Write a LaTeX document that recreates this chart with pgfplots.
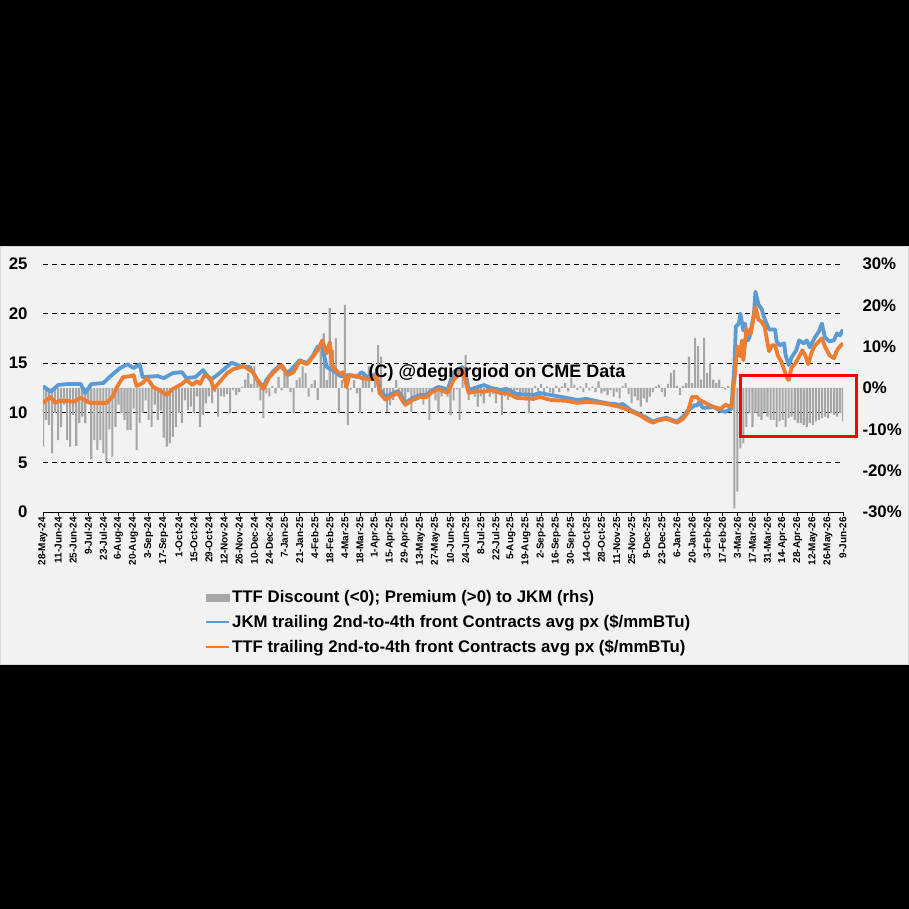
\documentclass[border=0pt]{standalone}
\usepackage{fontspec}
\setmainfont{Liberation Sans}
\usepackage{pgfplots}
\pgfplotsset{compat=1.18}
\definecolor{panel}{HTML}{F2F2F2}
\definecolor{barcol}{HTML}{A6A6A6}
\definecolor{jkm}{HTML}{5B9BD5}
\definecolor{ttf}{HTML}{ED7D31}
\newcommand\tickfont{\bfseries\fontsize{16.8}{20}\selectfont}
\begin{document}
\begin{tikzpicture}
\useasboundingbox (0pt,0pt) rectangle (909pt,909pt);
\fill[black] (0pt,0pt) rectangle (909pt,909pt);
\fill[panel, draw=black!15, line width=1pt] (0.5pt,244pt) rectangle (908.5pt,662pt);
\begin{axis}[
  at={(43pt,397pt)}, anchor=south west, scale only axis, width=800pt, height=248pt,
  xmin=0, xmax=530, ymin=-30, ymax=30,
  axis x line*=bottom, axis y line*=right,
  x axis line style={-, black, line width=0.8pt},
  y axis line style={draw=none},
  tick align=outside, major tick length=4pt,
  xtick={0,10,...,530},
  xticklabels={28-May-24,11-Jun-24,25-Jun-24,9-Jul-24,23-Jul-24,6-Aug-24,20-Aug-24,3-Sep-24,17-Sep-24,1-Oct-24,15-Oct-24,29-Oct-24,12-Nov-24,26-Nov-24,10-Dec-24,24-Dec-24,7-Jan-25,21-Jan-25,4-Feb-25,18-Feb-25,4-Mar-25,18-Mar-25,1-Apr-25,15-Apr-25,29-Apr-25,13-May-25,27-May-25,10-Jun-25,24-Jun-25,8-Jul-25,22-Jul-25,5-Aug-25,19-Aug-25,2-Sep-25,16-Sep-25,30-Sep-25,14-Oct-25,28-Oct-25,11-Nov-25,25-Nov-25,9-Dec-25,23-Dec-25,6-Jan-26,20-Jan-26,3-Feb-26,17-Feb-26,3-Mar-26,17-Mar-26,31-Mar-26,14-Apr-26,28-Apr-26,12-May-26,26-May-26,9-Jun-26},
  xticklabel style={rotate=90, anchor=east, font=\bfseries\fontsize{10}{12}\selectfont, inner sep=1pt},
  x tick style={black, line width=0.8pt},
  ytick={-30,-20,...,30},
  yticklabels={-30\%,-20\%,-10\%,0\%,10\%,20\%,30\%},
  y tick style={draw=none},
  yticklabel style={font=\tickfont, anchor=west, xshift=12pt},
  extra y ticks={-18,-6,6,18,30},
  extra y tick labels={},
  extra y tick style={grid=major, major grid style={black, dash pattern=on 5pt off 4pt, line width=0.7pt}, tick style={draw=none}},
]
\addplot[ybar, bar width=1.4, fill=barcol, draw=none] coordinates {
(0,-14.2)(2,-7.7)(4,-9.0)(6,-15.8)(8,-6.0)(10,-12.6)(12,-9.4)(14,-4.0)(16,-12.6)(18,-14.2)(20,-6.5)(22,-14.0)(24,-8.5)(26,-6.9)(28,-8.5)(30,-3.0)(32,-17.3)(34,-12.6)(36,-15.0)(38,-12.6)(40,-15.8)(42,-17.9)(44,-10.0)(46,-16.6)(48,-9.4)(50,-4.0)(52,-6.1)(54,-7.7)(56,-10.2)(58,-10.2)(60,-5.0)(62,-15.0)(64,-8.5)(66,-6.1)(68,-3.0)(70,-7.7)(72,-9.4)(74,-4.0)(76,-7.7)(78,-5.5)(80,-12.0)(82,-14.2)(84,-13.4)(86,-11.8)(88,-9.4)(90,-6.0)(92,-8.5)(94,-3.0)(96,-5.3)(98,-4.5)(100,-6.1)(102,-2.0)(104,-9.4)(106,-6.5)(108,-3.7)(110,-2.0)(112,-3.7)(114,-1.0)(116,-6.9)(118,-2.0)(120,-2.1)(122,-1.5)(124,-6.1)(126,-0.5)(128,-1.7)(130,-1.0)(132,0.3)(134,2.0)(136,3.6)(138,1.0)(140,5.2)(142,1.5)(144,-3.0)(146,-7.3)(148,-1.3)(150,-2.0)(152,0.5)(154,-1.3)(156,2.7)(158,-0.5)(160,5.2)(162,3.0)(164,-1.0)(166,-6.1)(168,1.9)(170,2.5)
(172,5.2)(174,3.6)(176,-2.1)(178,1.0)(180,1.9)(182,-2.9)(184,9.2)(186,13.2)(188,1.9)(190,19.3)(192,9.2)(194,12.0)(196,-6.1)(198,1.9)(200,20.1)(202,-9.0)(204,-0.4)(206,1.9)(208,-1.3)(210,-6.1)(212,3.6)(214,1.9)(216,5.2)(218,-1.0)(220,2.7)(222,10.4)(224,7.6)(226,-2.1)(228,-5.7)(230,-4.1)(232,-2.9)(234,1.9)(236,-0.4)(238,-2.1)(240,-3.0)(242,-1.0)(244,-5.7)(246,-2.0)(248,-3.0)(250,-2.1)(252,-4.0)(254,-1.5)(256,-7.7)(258,-1.3)(260,-3.0)(262,-5.7)(264,-2.0)(266,-1.0)(268,-2.1)(270,-6.5)(272,-3.0)(274,-0.4)(276,-7.7)(278,3.6)(280,8.0)(282,-2.9)(284,-1.0)(286,-2.1)(288,-4.5)(290,-2.0)(292,-3.7)(294,-1.0)(296,-2.1)(298,-1.5)(300,-3.7)(302,-1.0)(304,-6.5)(306,-2.0)(308,-2.9)(310,-1.0)(312,-2.0)(314,-0.5)(316,-2.1)(318,-1.0)(320,-3.0)(322,-6.1)(324,-1.2)(326,0.5)(328,-0.8)(330,1.0)(332,-1.5)(334,0.4)(336,-1.0)(338,-2.1)(340,0.5)(342,-1.0)(344,0.4)(346,1.2)(348,-0.8)(350,2.4)(352,0.8)(354,-0.5)(356,0.4)(358,-1.0)(360,1.2)(362,-0.6)(364,0.4)(366,-1.0)(368,1.6)
(370,-1.3)(372,-0.8)(374,-1.7)(376,-0.5)(378,-2.1)(380,-1.0)(382,-2.5)(384,0.5)(386,1.2)(388,-1.5)(390,-3.7)(392,-2.0)(394,-3.0)(396,-4.5)(398,-2.5)(400,-3.5)(402,-2.1)(404,-1.0)(406,0.4)(408,0.8)(410,-1.0)(412,-2.1)(414,1.0)(416,3.6)(418,4.4)(420,0.5)(422,-1.7)(424,0.5)(426,1.2)(428,7.6)(430,1.2)(432,12.1)(434,10.1)(436,2.0)(438,12.1)(440,3.6)(442,6.0)(444,2.0)(446,1.2)(448,2.0)(450,0.3)(452,-0.4)(454,0.5)(456,-0.4)(458,-29.1)(460,-25.1)(462,-14.6)(464,-13.4)
(466,-9.4)(468,-6.1)(470,-9.4)(472,-6.1)(474,-6.9)(476,-7.7)(478,-5.7)(480,-6.9)(482,-7.7)(484,-7.7)(486,-9.4)(488,-8.0)(490,-7.7)(492,-9.4)(494,-7.3)(496,-6.9)(498,-7.7)(500,-8.5)(502,-8.5)(504,-8.9)(506,-9.4)(508,-8.5)(510,-8.9)(512,-8.1)(514,-7.7)(516,-7.3)(518,-6.9)(520,-7.3)(522,-6.1)(524,-6.5)(526,-6.9)(528,-6.1)(530,-8.1)
};
\end{axis}
\begin{axis}[
  at={(43pt,397pt)}, anchor=south west, scale only axis, width=800pt, height=248pt,
  xmin=0, xmax=530, ymin=0, ymax=25,
  axis x line=none, axis y line*=left,
  y axis line style={draw=none},
  ytick={0,5,...,25}, yticklabels={0,5,10,15,20,25},
  y tick style={draw=none},
  yticklabel style={font=\tickfont, anchor=east, xshift=-12pt},
  legend image code/.code={\draw[#1, line width=2.5pt] (0pt,0pt) -- (23pt,0pt);},
  legend style={at={(0.2025,-0.31)}, anchor=north west, draw=none, fill=none, inner sep=0pt, font=\tickfont, row sep=8pt, nodes={inner sep=1.5pt}},
  legend cell align=left,
]
\addlegendimage{legend image code/.code={\fill[barcol] (0pt,-3.5pt) rectangle (23pt,3.5pt);}}
\addlegendentry{TTF Discount (<0); Premium (>0) to JKM (rhs)}
\addplot[jkm, line width=3.8pt, line join=round] coordinates {
(0,12.7)(5,12.1)(10,12.8)(16,12.9)(25,12.9)(28,12.0)(32,12.9)(40,13.0)(44,13.6)(51,14.5)(56,14.9)(60,14.5)(64,14.9)(66,13.6)(76,13.7)(80,13.5)(86,14.0)(92,14.1)(95,13.5)(101,13.6)(106,14.3)(111,13.3)(117,14.0)(125,15.05)(131,14.7)(137,14.6)(142,13.3)(146,12.6)(148,13.3)(152,14.1)(157,14.8)(162,14.0)(166,14.6)(170,15.3)(175,15.0)(179,15.8)(182,16.7)(185,16.6)(188,14.6)(192,14.3)(197,13.7)(203,13.8)(208,13.6)(211,14.1)(215,13.6)(218,13.8)(221,13.9)(223,12.4)(227,11.6)(230,11.8)(235,12.2)(237,11.8)(240,11.0)(245,11.5)(250,11.8)(254,11.8)(258,12.3)(262,12.6)(265,12.5)(268,12.3)(272,14.1)(278,14.6)(280,14.0)(282,12.3)(288,12.6)(292,12.8)(297,12.5)(303,12.3)(307,12.4)(314,11.9)(325,11.8)(329,12.0)(336,11.8)(347,11.5)(354,11.3)(360,11.4)(369,11.1)(376,10.9)(378,10.9)(382,10.8)(384,10.9)(389,10.3)(396,9.8)(400,9.5)(404,9.1)(407,9.3)(413,9.5)(420,9.1)(424,9.6)(427,10.2)(432,10.8)(433,10.7)(435,11.1)(437,10.5)(440,10.5)(444,10.6)(449,10.2)(452,10.1)(456,10.4)(458,14.6)(459,18.7)(461,19.0)(462,20.0)(464,18.3)(465,19.0)(467,17.3)(468,17.6)(471,20.0)(472,22.2)(474,20.9)(476,20.5)(478,19.5)(481,18.4)(483,18.4)(485,18.4)(486,17.2)(488,16.8)(491,17.0)(492,15.8)(494,14.8)(496,15.6)(499,16.3)(501,17.3)(504,17.0)(506,17.3)(508,16.6)(511,17.5)(514,18.2)(516,19.0)(518,17.6)(521,17.2)(524,17.3)(526,18.0)(528,17.8)(530,18.4)
};
\addlegendentry{JKM trailing 2nd-to-4th front Contracts avg px (\$/mmBTu)}
\addplot[ttf, line width=3.8pt, line join=round] coordinates {
(0,11.0)(5,11.6)(8,11.0)(11,11.2)(16,11.2)(20,11.1)(25,11.5)(31,11.0)(38,11.0)(42,11.0)(46,11.6)(49,12.6)(53,13.6)(58,13.7)(60,13.8)(62,12.7)(66,13.0)(69,13.5)(73,12.6)(77,12.3)(82,11.8)(86,12.4)(92,12.9)(95,13.3)(99,12.8)(102,13.2)(104,12.9)(107,13.8)(111,13.5)(113,12.4)(117,13.1)(122,14.0)(126,14.4)(133,14.7)(139,14.1)(144,12.8)(146,12.4)(150,13.6)(155,14.4)(158,14.8)(162,13.8)(166,14.1)(170,15.2)(175,14.9)(179,15.7)(182,16.3)(185,17.3)(188,16.0)(190,17.1)(192,14.6)(197,13.9)(199,14.1)(201,12.6)(203,13.8)(208,13.7)(211,13.5)(215,13.4)(218,13.4)(221,13.9)(223,12.0)(227,11.3)(230,11.6)(235,12.0)(237,11.5)(240,10.8)(245,11.3)(250,11.6)(254,11.6)(258,12.1)(262,12.4)(265,12.2)(268,12.0)(272,13.3)(278,14.3)(282,12.0)(288,12.2)(292,12.1)(297,12.3)(303,12.0)(307,12.0)(314,11.5)(325,11.4)(329,11.6)(336,11.3)(347,11.2)(354,11.0)(360,11.1)(369,11.0)(376,10.8)(382,10.6)(389,10.2)(396,9.7)(400,9.3)(404,9.0)(407,9.2)(413,9.4)(420,9.0)(424,9.4)(427,10.0)(430,11.6)(433,11.6)(435,11.3)(440,10.9)(444,10.6)(449,10.4)(452,10.8)(456,10.6)(458,13.3)(460,16.7)(462,15.7)(463,17.3)(464,15.3)(466,18.5)(467,18.0)(469,18.0)(472,20.7)(474,19.4)(476,19.2)(478,18.7)(481,16.2)(483,16.8)(485,16.8)(487,15.7)(489,15.2)(493,13.5)(494,13.3)(496,14.6)(498,14.9)(500,15.4)(503,16.3)(505,15.8)(507,14.9)(509,16.0)(511,16.7)(514,17.2)(516,17.5)(518,16.7)(521,15.8)(524,15.5)(526,16.3)(528,16.7)(530,17.0)
};
\addlegendentry{TTF trailing 2nd-to-4th front Contracts avg px (\$/mmBTu)}
\end{axis}
\node[font=\bfseries\fontsize{18}{20}\selectfont] at (497pt,536pt) {(C) @degiorgiod on CME Data};
\draw[red, line width=3pt] (740pt,472pt) rectangle (856pt,533pt);
\end{tikzpicture}
\end{document}
